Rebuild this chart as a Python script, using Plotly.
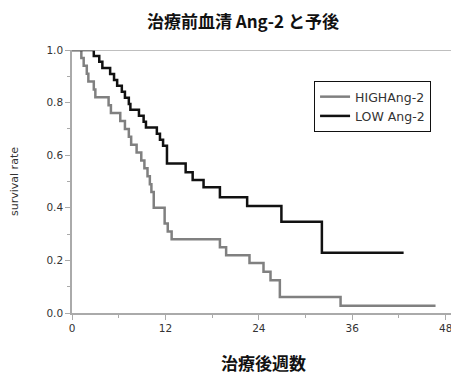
import plotly.graph_objects as go

high_weeks = [0, 1.2, 1.5, 1.9, 2.1, 2.8, 3.0, 4.7, 5.0, 6.2, 6.8, 7.3, 7.6, 8.3, 8.9, 9.3, 9.7, 10.0, 10.2, 10.5,
              11.9, 12.3, 12.8, 19.0, 19.8, 22.8, 24.6, 25.5, 26.7, 34.5, 46.7]
high_surv = [1.0, 0.97, 0.94, 0.91, 0.88, 0.85, 0.82, 0.79, 0.76, 0.73, 0.70, 0.67, 0.64, 0.61, 0.58, 0.55, 0.52, 0.49, 0.46, 0.40,
             0.34, 0.31, 0.28, 0.25, 0.22, 0.19, 0.157, 0.125, 0.061, 0.028, 0.028]

low_weeks = [0, 2.8, 3.5, 3.9, 4.9, 5.4, 5.8, 6.4, 6.8, 7.3, 7.5, 8.6, 9.2, 9.5, 10.9, 11.3, 11.7, 12.2,
             14.6, 15.5, 16.9, 19.0, 22.5, 26.9, 32.1, 42.6]
low_surv = [1.0, 0.977, 0.955, 0.932, 0.909, 0.886, 0.864, 0.841, 0.818, 0.795, 0.773, 0.75, 0.727, 0.705, 0.682, 0.659, 0.636, 0.568,
            0.535, 0.506, 0.478, 0.44, 0.407, 0.347, 0.229, 0.229]

x_ticks = [0, 12, 24, 36, 48]
y_ticks = [0.0, 0.2, 0.4, 0.6, 0.8, 1.0]
y_tick_labels = ["0.0", "0.2", "0.4", "0.6", "0.8", "1.0"]

fig = go.Figure()
fig.add_trace(go.Scatter(x=high_weeks, y=high_surv, mode="lines", line_shape="hv",
                         line=dict(color="#808080", width=2.5), name="HIGHAng-2"))
fig.add_trace(go.Scatter(x=low_weeks, y=low_surv, mode="lines", line_shape="hv",
                         line=dict(color="#111111", width=2.5), name="LOW Ang-2"))

tick_font = dict(family="DejaVu Sans, Verdana, sans-serif", size=10.5, color="#333333")

fig.update_layout(
    width=451, height=367,
    margin=dict(l=64, r=4, t=42, b=62),
    plot_bgcolor="white", paper_bgcolor="white",
    title=dict(text="<b>治療前血清 Ang-2 と予後</b>", x=0.521, xanchor="center", y=0.962, yanchor="middle",
               font=dict(family="Noto Sans CJK JP, sans-serif", size=17, color="#111111")),
    showlegend=True,
    legend=dict(x=0.632, y=0.882, xanchor="left", yanchor="top",
                bordercolor="#111111", borderwidth=1, bgcolor="white",
                font=dict(family="DejaVu Sans, Verdana, sans-serif", size=12.5, color="#333333"),
                itemwidth=30, tracegroupgap=2),
    xaxis=dict(range=[0, 49.2], tickvals=x_ticks, ticktext=[str(v) for v in x_ticks],
               showgrid=False, zeroline=False, showline=True, linecolor="#aaaaaa", linewidth=1.5,
               ticks="outside", ticklen=5, tickcolor="#aaaaaa", tickfont=tick_font, automargin=False,
               minor=dict(dtick=6, ticks="outside", ticklen=3, tickcolor="#aaaaaa"),
               title=dict(text="<b>治療後週数</b>", font=dict(family="Noto Sans CJK JP, sans-serif", size=17, color="#111111"),
                          standoff=27)),
    yaxis=dict(range=[0, 1.0], tickvals=y_ticks, ticktext=y_tick_labels,
               showgrid=False, zeroline=False, showline=True, linecolor="#aaaaaa", linewidth=1.5,
               ticks="outside", ticklen=5, tickcolor="#aaaaaa", tickfont=tick_font, automargin=False,
               minor=dict(dtick=0.1, ticks="outside", ticklen=3, tickcolor="#aaaaaa"),
               title=dict(text="survival rate", font=dict(family="DejaVu Sans, Verdana, sans-serif", size=11, color="#333333"),
                          standoff=26)),
)
fig.add_shape(type="line", xref="paper", yref="y", x0=0, x1=1, y0=1.0, y1=1.0,
              line=dict(color="#aaaaaa", width=1.5))

fig.write_html("out.html")
